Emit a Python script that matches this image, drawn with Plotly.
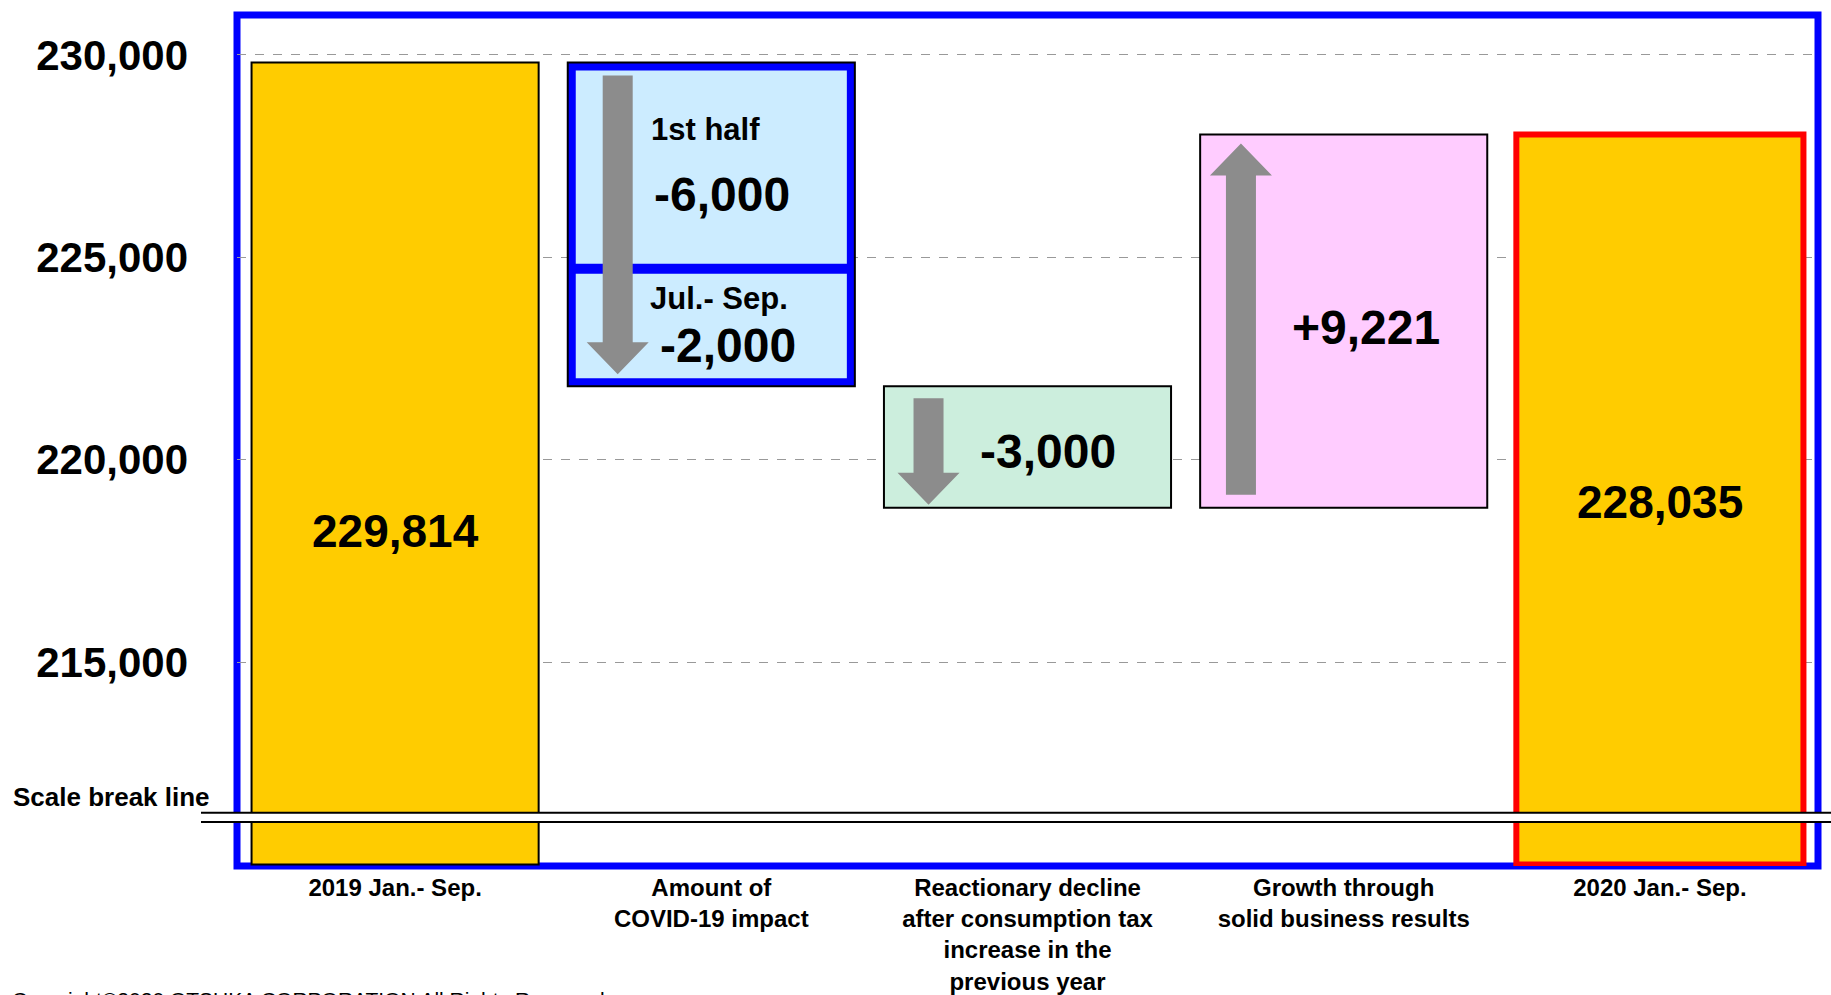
import plotly.graph_objects as go

# ---------------- data ----------------
categories = [
    "2019 Jan.- Sep.",
    "Amount of<br>COVID-19 impact",
    "Reactionary decline<br>after consumption tax<br>increase in the<br>previous year",
    "Growth through<br>solid business results",
    "2020 Jan.- Sep.",
]
start_total = 229814
covid_first_half = -6000
covid_jul_sep = -2000
tax_reaction = -3000
business_growth = 9221
end_total = 228035
axis_floor = 210000          # value at the scale-broken bottom of the axis
ytick_vals = [215000, 220000, 225000, 230000]
ytick_text = ["215,000", "220,000", "225,000", "230,000"]

# ---------------- layout constants ----------------
W, H = 1831, 995
ML, MR, MT, MB = 237, 13, 15, 129
PW, PH = W - ML - MR, H - MT - MB
XMIN, XMAX = -0.5, 4.5
YMAX = 230986
YMIN = 209963
px_x = PW / (XMAX - XMIN)
px_y = PH / (YMAX - YMIN)
def dx(p): return p / px_x
def dy(p): return p / px_y

FONT = "Liberation Sans, Arial, sans-serif"
YELLOW = "#FFCC00"
LBLUE = "#CCECFF"
MINT = "#CCEEDD"
PINK = "#FFCCFF"
BLUE = "#0000FF"
RED = "#FF0000"
GREY = "#8C8C8C"

covid_total = covid_first_half + covid_jul_sep
after_covid = start_total + covid_total
after_tax = after_covid + tax_reaction
after_growth = after_tax + business_growth

xs = [0, 1, 2, 3, 4]
bases = [axis_floor, after_covid, after_tax, after_tax, axis_floor]
tops = [start_total, start_total, after_covid, after_growth, end_total]
heights = [t - b for t, b in zip(tops, bases)]
BW = 0.908

fig = go.Figure()

# main boxes
fig.add_trace(go.Bar(
    x=xs, y=heights, base=bases, width=BW,
    marker=dict(color=[YELLOW, BLUE, MINT, PINK, YELLOW],
                line=dict(color=["black", "black", "black", "black", RED],
                          width=[2, 2, 2, 2, 6])),
    hoverinfo="skip", showlegend=False,
))
# inner light-blue area of the COVID box (inside the thick blue frame)
inset = 8
fig.add_trace(go.Bar(
    x=[1], y=[heights[1] - dy(2 * inset)], base=[bases[1] + dy(inset)],
    width=BW - dx(2 * inset),
    marker=dict(color=LBLUE, line=dict(width=0)),
    hoverinfo="skip", showlegend=False,
))

shapes = []
# outer blue frame
shapes.append(dict(type="rect", xref="paper", yref="paper", x0=0, x1=1, y0=0, y1=1,
                   line=dict(color=BLUE, width=7), layer="below"))
# divider between 1st half and Jul.-Sep.
split_y = start_total - heights[1] * 0.637
shapes.append(dict(type="line", xref="x", yref="y",
                   x0=1 - BW / 2 + dx(4), x1=1 + BW / 2 - dx(4), y0=split_y, y1=split_y,
                   line=dict(color=BLUE, width=10), layer="above"))

def arrow(xc, y_from, y_to):
    sw, hw, hl = dx(15), dx(31), dy(32)
    sgn = 1 if y_to < y_from else -1  # down arrow -> head above tip
    yb = y_to + sgn * hl
    p = (f"M {xc-sw},{y_from} L {xc+sw},{y_from} L {xc+sw},{yb} L {xc+hw},{yb} "
         f"L {xc},{y_to} L {xc-hw},{yb} L {xc-sw},{yb} Z")
    return dict(type="path", xref="x", yref="y", path=p,
                fillcolor=GREY, line=dict(width=0), layer="above")

shapes.append(arrow(1 - 0.296, start_total - dy(13), after_covid + dy(12)))
shapes.append(arrow(2 - 0.313, after_covid - dy(12), after_tax + dy(3)))
shapes.append(arrow(3 - 0.325, after_tax + dy(13), after_growth - dy(9)))

# scale break band
yb1 = (H - MB - 812.8) / PH
yb2 = (H - MB - 822.1) / PH
x_start = (201 - ML) / PW
shapes.append(dict(type="rect", xref="paper", yref="paper", x0=x_start, x1=1.02,
                   y0=yb2, y1=yb1, fillcolor="white", line=dict(width=0), layer="above"))
for yy in (yb1, yb2):
    shapes.append(dict(type="line", xref="paper", yref="paper", x0=x_start, x1=1.02,
                       y0=yy, y1=yy, line=dict(color="black", width=2), layer="above"))

ann = []
def label(x, y, text, size, anchor="center"):
    ann.append(dict(x=x, y=y, xref="x", yref="y", text=text, showarrow=False,
                    xanchor=anchor, yanchor="middle",
                    font=dict(family=FONT, size=size, color="black", weight="bold")))

label(0, bases[0] + heights[0] * 0.416, f"{start_total:,}", 46)
label(4, bases[4] + heights[4] * 0.4965, f"{end_total:,}", 46)
label(1 - 0.196, bases[1] + heights[1] * 0.793, "1st half", 31, "left")
label(1 - 0.186, bases[1] + heights[1] * 0.591, f"{covid_first_half:,}", 48, "left")
label(1 - 0.200, bases[1] + heights[1] * 0.270, "Jul.- Sep.", 31, "left")
label(1 - 0.168, bases[1] + heights[1] * 0.126, f"{covid_jul_sep:,}", 48, "left")
label(2 + 0.066, bases[2] + heights[2] * 0.459, f"{tax_reaction:,}", 48)
label(3 + 0.070, bases[3] + heights[3] * 0.4815, f"+{business_growth:,}", 48)

ann.append(dict(x=(11 - ML) / PW, y=(H - MB - 796.5) / PH, xref="paper", yref="paper",
                text="Scale break line", showarrow=False, xanchor="left", yanchor="middle",
                font=dict(family=FONT, size=26, color="black", weight="bold")))
ann.append(dict(x=(10 - ML) / PW, y=(H - MB - 986) / PH, xref="paper", yref="paper",
                text="Copyright©2020 OTSUKA CORPORATION All Rights Reserved.", showarrow=False,
                xanchor="left", yanchor="top",
                font=dict(family=FONT, size=21, color="black")))

fig.update_layout(
    width=W, height=H,
    margin=dict(l=ML, r=MR, t=MT, b=MB, pad=0, autoexpand=False),
    paper_bgcolor="white", plot_bgcolor="white",
    barmode="overlay",
    shapes=shapes, annotations=ann,
    xaxis=dict(range=[XMIN, XMAX], tickvals=xs, ticktext=categories,
               showgrid=False, zeroline=False, showline=False, ticks="",
               automargin=False, ticklabelstandoff=5,
               tickfont=dict(family=FONT, size=24, color="black", weight="bold")),
    yaxis=dict(range=[YMIN, YMAX], tickvals=ytick_vals, ticktext=ytick_text,
               showgrid=True, gridcolor="#999999", griddash="dash", gridwidth=1,
               zeroline=False, showline=False, ticks="", ticklabelstandoff=48,
               automargin=False,
               tickfont=dict(family=FONT, size=42, color="black", weight="bold")),
)

fig.write_html("out.html")
